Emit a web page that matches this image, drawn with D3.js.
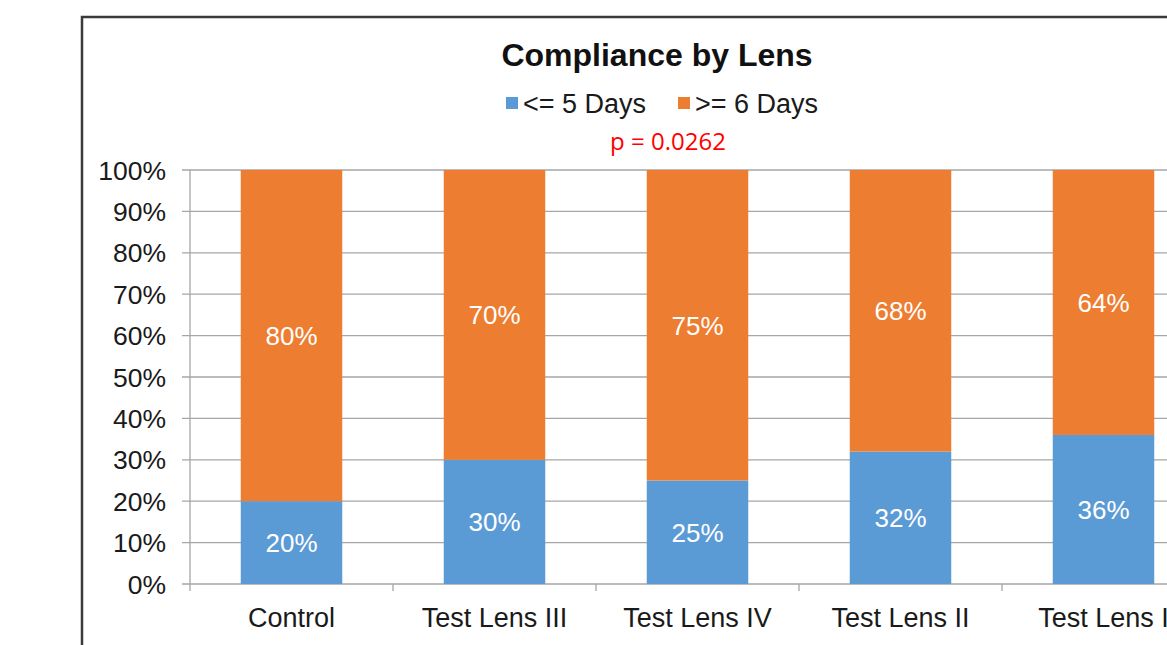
<!DOCTYPE html>
<html>
<head>
<meta charset="utf-8">
<script src="https://cdn.jsdelivr.net/npm/d3@7"></script>
<style>
  body { margin: 0; background: #fff; overflow: hidden; }
  svg { display: block; font-family: "Liberation Sans", Arial, sans-serif; }
</style>
</head>
<body>
<svg id="chart"></svg>
<script>
// chart data
const categories = ['Control', 'Test Lens III', 'Test Lens IV', 'Test Lens II', 'Test Lens I'];
const shortDays = [20, 30, 25, 32, 36];   // <= 5 Days
const longDays = [80, 70, 75, 68, 64];    // >= 6 Days
const seriesNames = ['<= 5 Days', '>= 6 Days'];
const yTicks = [0, 10, 20, 30, 40, 50, 60, 70, 80, 90, 100];

const colors = ['#5B9BD5', '#ED7D31'];

const width = 1167, height = 645;
const svg = d3.select('#chart')
  .attr('width', width)
  .attr('height', height);

// outer chart border (runs past the photo on right and bottom)
svg.append('rect')
  .attr('x', 82)
  .attr('y', 17)
  .attr('width', 1300)
  .attr('height', 800)
  .attr('fill', 'none')
  .attr('stroke', '#3a3a3a')
  .attr('stroke-width', 2.5);

const x = d3.scaleBand()
  .domain(categories)
  .range([190, 1205])
  .paddingInner(0.5)
  .paddingOuter(0.25);

const y = d3.scaleLinear()
  .domain([0, 100])
  .range([584, 170]);

// gridlines
svg.append('g')
  .selectAll('line')
  .data(yTicks)
  .join('line')
  .attr('x1', 182)
  .attr('x2', 1205)
  .attr('y1', d => y(d))
  .attr('y2', d => y(d))
  .attr('stroke', '#a6a6a6')
  .attr('stroke-width', 1.3);

// y axis line
svg.append('line')
  .attr('x1', 190).attr('x2', 190)
  .attr('y1', y(100)).attr('y2', y(0))
  .attr('stroke', '#a6a6a6')
  .attr('stroke-width', 1.3);

// y tick labels
svg.append('g')
  .selectAll('text')
  .data(yTicks)
  .join('text')
  .attr('x', 166)
  .attr('y', d => y(d))
  .attr('dy', '0.36em')
  .attr('text-anchor', 'end')
  .attr('font-size', '26.5px')
  .attr('fill', '#1a1a1a')
  .text(d => d + '%');

// x axis category ticks
const bandStep = x.step();
const tickXs = d3.range(categories.length + 1).map(i => 190 + i * bandStep);
svg.append('g')
  .selectAll('line')
  .data(tickXs)
  .join('line')
  .attr('x1', d => d).attr('x2', d => d)
  .attr('y1', y(0)).attr('y2', y(0) + 7)
  .attr('stroke', '#a6a6a6')
  .attr('stroke-width', 1.3);

// stacked bars
const rows = categories.map((c, i) => ({ cat: c, s0: shortDays[i], s1: longDays[i] }));
const stack = d3.stack().keys(['s0', 's1'])(rows);

const layers = svg.append('g')
  .selectAll('g')
  .data(stack)
  .join('g')
  .attr('fill', (d, i) => colors[i]);

layers.selectAll('rect')
  .data(d => d)
  .join('rect')
  .attr('x', d => x(d.data.cat))
  .attr('width', x.bandwidth())
  .attr('y', d => y(d[1]))
  .attr('height', d => y(d[0]) - y(d[1]));

// data labels
layers.selectAll('text')
  .data((d, i) => d.map(p => ({ p, key: stack[i].key })))
  .join('text')
  .attr('x', d => x(d.p.data.cat) + x.bandwidth() / 2)
  .attr('y', d => y((d.p[0] + d.p[1]) / 2))
  .attr('dy', '0.36em')
  .attr('text-anchor', 'middle')
  .attr('font-size', '26px')
  .attr('fill', '#ffffff')
  .text(d => d.p.data[d.key] + '%');

// x category labels
svg.append('g')
  .selectAll('text')
  .data(categories)
  .join('text')
  .attr('x', d => x(d) + x.bandwidth() / 2)
  .attr('y', 627)
  .attr('text-anchor', 'middle')
  .attr('font-size', '27px')
  .attr('fill', '#1a1a1a')
  .text(d => d);

// title
svg.append('text')
  .attr('x', 657)
  .attr('y', 66)
  .attr('text-anchor', 'middle')
  .attr('font-size', '32px')
  .attr('font-weight', 'bold')
  .attr('fill', '#111')
  .text('Compliance by Lens');

// legend
const legendX = [506, 678];
const legend = svg.append('g')
  .selectAll('g')
  .data(seriesNames)
  .join('g')
  .attr('transform', (d, i) => `translate(${legendX[i]},97)`);
legend.append('rect')
  .attr('width', 12)
  .attr('height', 12)
  .attr('fill', (d, i) => colors[i]);
legend.append('text')
  .attr('x', 17)
  .attr('y', 6)
  .attr('dy', '0.36em')
  .attr('font-size', '27px')
  .attr('fill', '#1a1a1a')
  .text(d => d);

// p value note
svg.append('text')
  .attr('x', 668)
  .attr('y', 150)
  .attr('text-anchor', 'middle')
  .attr('font-family', '"Open Sans", "Noto Sans", sans-serif')
  .attr('font-size', '24px')
  .attr('fill', '#ff0000')
  .text('p = 0.0262');
</script>
</body>
</html>
